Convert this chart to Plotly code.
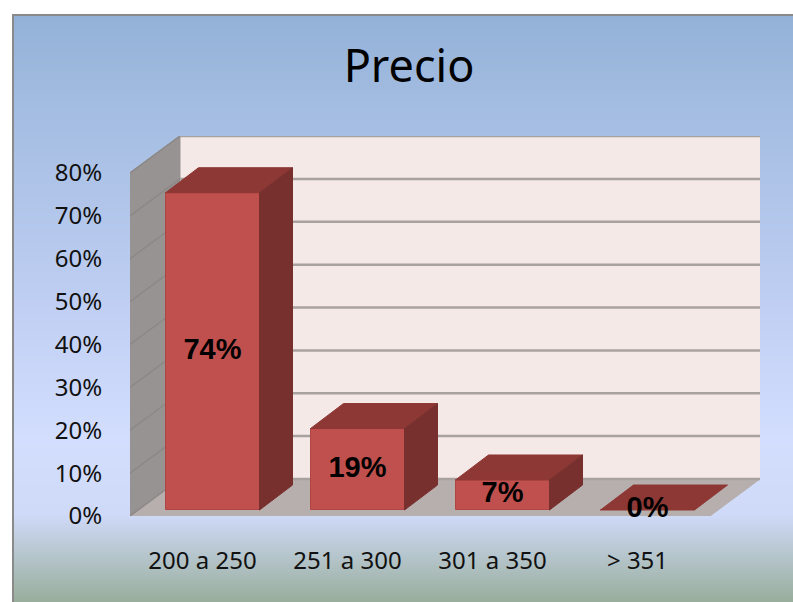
import plotly.graph_objects as go

# ---- data ----
categories = ["200 a 250", "251 a 300", "301 a 350", "> 351"]
values = [0.74, 0.19, 0.07, 0.0]
y_ticks = [0, 0.1, 0.2, 0.3, 0.4, 0.5, 0.6, 0.7, 0.8]
y_labels = ["0%", "10%", "20%", "30%", "40%", "50%", "60%", "70%", "80%"]
bg_stops = [0, 0.15, 0.5, 0.72, 0.85, 1]
bg_colors = ["#93B1D7", "#A3BCE1", "#C0CFF3", "#D3DEFE", "#CFDAF8", "#98AD9B"]

# ---- canvas geometry (pixels) ----
W, H = 793, 602
PX_PER_CAT = 145.0
PX_PER_UNIT = 428.75
FRONT_X, FRONT_Y = 130, 516
WALL_DX, WALL_DY = 50, 37
BAR_DX, BAR_DY = 33, 25
BAR_PX = 94
BASE_PX, SHIFT_PX = 6, 10

x_range = [-0.5, -0.5 + (len(categories) * PX_PER_CAT + WALL_DX) / PX_PER_CAT]
y_range = [0, (y_ticks[-1] * PX_PER_UNIT + WALL_DY) / PX_PER_UNIT]
dom_x = [FRONT_X / W, (FRONT_X + len(categories) * PX_PER_CAT + WALL_DX) / W]
dom_y = [(H - FRONT_Y) / H, (H - FRONT_Y + y_ticks[-1] * PX_PER_UNIT + WALL_DY) / H]

wall_x = WALL_DX / PX_PER_CAT
wall_y = WALL_DY / PX_PER_UNIT
bar_x = BAR_DX / PX_PER_CAT
bar_y = BAR_DY / PX_PER_UNIT
bar_w = BAR_PX / PX_PER_CAT
base = BASE_PX / PX_PER_UNIT
shift = SHIFT_PX / PX_PER_CAT
x_lo, x_hi = -0.5, len(categories) - 0.5
y_top = y_ticks[-1]

FRONT_COL, TOP_COL, SIDE_COL = "#C0504D", "#8E3835", "#78302E"
GRID = "#A8A29E"
SIDE_GRID = "#8B8886"

fig = go.Figure()


def poly(xs, ys, color, ax, line=None):
    fig.add_trace(go.Scatter(
        x=xs + xs[:1], y=ys + ys[:1], mode="lines", fill="toself", fillcolor=color,
        line=dict(color=line or color, width=1), hoverinfo="skip", showlegend=False,
        xaxis="x" + ax, yaxis="y" + ax))


# background gradient
fig.add_trace(go.Heatmap(
    z=[[s] for s in bg_stops], y=[1 - s for s in bg_stops], x=[0],
    zmin=0, zmax=1, zsmooth="best", showscale=False, hoverinfo="skip",
    colorscale=[[s, c] for s, c in zip(bg_stops, bg_colors)],
    xaxis="x", yaxis="y"))

# walls
poly([x_lo + wall_x, x_hi + wall_x, x_hi + wall_x, x_lo + wall_x],
     [wall_y, wall_y, y_top + wall_y, y_top + wall_y], "#F5E9E8", "2")
poly([x_lo, x_lo + wall_x, x_lo + wall_x, x_lo],
     [0, wall_y, y_top + wall_y, y_top], "#989393", "2")
poly([x_lo, x_hi, x_hi + wall_x, x_lo + wall_x],
     [0, 0, wall_y, wall_y], "#B7AFAE", "2")

# gridlines on both walls
for v in y_ticks:
    fig.add_trace(go.Scatter(
        x=[x_lo, x_lo + wall_x], y=[v, v + wall_y],
        mode="lines", line=dict(color=SIDE_GRID, width=1.5), hoverinfo="skip",
        showlegend=False, xaxis="x2", yaxis="y2"))
    fig.add_trace(go.Scatter(
        x=[x_lo + wall_x, x_hi + wall_x], y=[v + wall_y, v + wall_y],
        mode="lines", line=dict(color=GRID, width=2.5), hoverinfo="skip",
        showlegend=False, xaxis="x2", yaxis="y2"))

# bars
positions = [i + shift for i in range(len(values))]
fig.add_trace(go.Bar(
    x=positions, y=values, base=base, width=bar_w,
    marker=dict(color=FRONT_COL, line=dict(color="#B04643", width=1)),
    showlegend=False, hoverinfo="skip", xaxis="x3", yaxis="y3"))

for p, v in zip(positions, values):
    l, r = p - bar_w / 2, p + bar_w / 2
    t = base + v
    poly([l, r, r + bar_x, l + bar_x], [t, t, t + bar_y, t + bar_y], TOP_COL, "3")
    if v > 0:
        poly([r, r + bar_x, r + bar_x, r], [base, base + bar_y, t + bar_y, t], SIDE_COL, "3")

fig.add_trace(go.Scatter(
    x=positions, y=[base + v / 2 for v in values], mode="text",
    text=[f"{round(v * 100)}%" for v in values], cliponaxis=False,
    textposition="middle center",
    textfont=dict(family="Liberation Sans", size=29, color="black", weight="bold"),
    hoverinfo="skip", showlegend=False, xaxis="x3", yaxis="y3"))

hidden = dict(visible=False, fixedrange=True, automargin=False)
tick_font = dict(family="Noto Sans", size=24, color="#111111")
fig.update_layout(
    width=W, height=H, margin=dict(l=0, r=0, t=0, b=0), autosize=False,
    paper_bgcolor="white", plot_bgcolor="rgba(0,0,0,0)", bargap=0,
    title=dict(text="Precio", x=409 / W, xanchor="center", y=1 - 66 / H, yanchor="middle",
               font=dict(family="Noto Sans", size=45, color="black")),
    xaxis=dict(hidden, domain=[13 / W, 1], range=[-0.5, 0.5]),
    yaxis=dict(hidden, domain=[0, 1 - 15 / H], range=[0, 1]),
    xaxis2=dict(hidden, domain=dom_x, range=x_range),
    yaxis2=dict(hidden, domain=dom_y, range=y_range),
    xaxis3=dict(domain=dom_x, range=x_range, anchor="y3", tickvals=list(range(len(categories))),
                ticktext=categories, ticks="outside", ticklen=23, tickcolor="rgba(0,0,0,0)",
                automargin=False, showgrid=False, zeroline=False, showline=False,
                tickfont=tick_font, fixedrange=True),
    yaxis3=dict(domain=dom_y, range=y_range, anchor="x3", tickvals=y_ticks, ticktext=y_labels,
                ticks="outside", ticklen=22, tickcolor="rgba(0,0,0,0)",
                automargin=False, showgrid=False, zeroline=False, showline=False,
                tickfont=tick_font, fixedrange=True),
    shapes=[dict(type="rect", xref="paper", yref="paper", x0=13 / W, x1=1.01, y0=-0.01, y1=1 - 15 / H,
                 line=dict(color="#8A8A8A", width=2), layer="above")],
)
fig.write_html("out.html", config=dict(displayModeBar=False),
               post_script="document.body.style.margin='0';")
